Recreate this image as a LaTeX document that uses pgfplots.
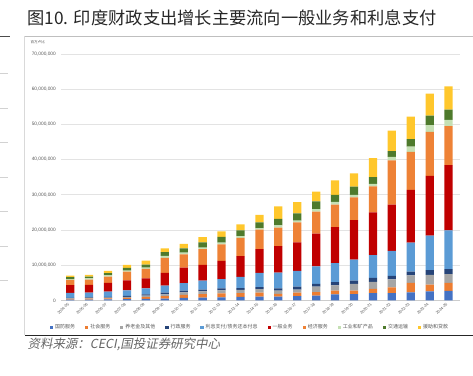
\documentclass[border=0pt]{standalone}
\usepackage{fontspec}
\setmainfont{Liberation Sans}
\newfontfamily\cjk{Noto Sans CJK SC}
\newfontfamily\cjksl[FakeSlant=0.2]{Noto Sans CJK SC}
\usepackage{pgfplots}
\pgfplotsset{compat=1.18}
\usepackage{pgfplotstable}
\definecolor{cdef}{HTML}{4472C4}
\definecolor{csoc}{HTML}{ED7D31}
\definecolor{cpen}{HTML}{A5A5A5}
\definecolor{cadm}{HTML}{264478}
\definecolor{cint}{HTML}{5B9BD5}
\definecolor{cgen}{HTML}{C00000}
\definecolor{ceco}{HTML}{EE8236}
\definecolor{cind}{HTML}{C5E0B4}
\definecolor{ctra}{HTML}{4E7A2C}
\definecolor{caid}{HTML}{FFC72C}
\definecolor{ctxt}{HTML}{595959}

\pgfplotstableread{
x def soc pen adm int gen eco ind tra aid
0 0.25 0.20 0.15 0.15 1.40 2.20 1.50 0.20 0.60 0.40
1 0.25 0.25 0.20 0.15 1.40 2.20 1.50 0.30 0.55 0.50
2 0.30 0.30 0.20 0.20 1.50 2.50 1.80 0.30 0.65 0.65
3 0.35 0.40 0.30 0.25 1.60 2.80 2.50 0.30 0.75 0.85
4 0.45 0.50 0.40 0.35 1.70 2.90 2.65 0.40 0.85 1.10
5 0.55 0.70 0.50 0.45 2.00 3.60 4.30 0.55 1.05 1.10
6 0.70 0.90 0.70 0.50 2.10 4.40 3.80 0.50 1.20 1.30
7 0.80 1.00 0.80 0.50 2.50 4.50 4.50 0.40 1.50 1.50
8 0.90 1.10 0.90 0.50 2.65 5.20 4.70 0.50 1.60 1.60
9 1.00 1.10 0.90 0.50 3.20 5.90 5.20 0.50 1.60 1.70
10 1.10 1.10 1.00 0.60 4.00 6.80 5.50 0.40 1.70 2.10
11 1.10 0.80 0.90 0.60 4.50 7.50 5.30 0.60 1.90 3.50
12 1.20 1.00 0.90 0.80 4.50 8.10 5.70 0.50 2.00 3.20
13 1.40 1.00 1.50 0.80 5.00 9.30 6.20 0.70 2.20 2.80
14 1.70 1.10 1.50 0.90 5.40 10.20 6.40 0.80 2.00 4.10
15 1.80 1.00 1.90 0.90 6.00 11.20 6.50 0.70 2.30 3.80
16 2.10 1.20 2.00 1.10 6.50 12.10 7.40 0.70 1.90 5.40
17 2.10 1.60 2.30 1.00 7.10 13.10 12.60 1.00 1.60 5.80
18 2.30 2.70 2.10 1.10 8.20 15.00 10.80 1.50 2.10 6.40
19 2.60 1.90 2.80 1.30 9.80 17.00 12.50 1.90 2.70 6.20
20 2.70 2.30 2.50 1.40 11.00 18.50 11.10 1.80 2.90 6.60
}\data

\begin{document}
\begin{tikzpicture}
\path (0pt,0pt) rectangle (473pt,376pt);
% decorations
\node[anchor=west, inner sep=0pt, font=\cjk\fontsize{17.3}{19}\selectfont, text=black!85] at (27pt,358pt) {图10. 印度财政支出增长主要流向一般业务和利息支付};
\draw[gray!50, line width=0.5pt] (25pt,340pt) -- (473pt,340pt);
\draw[black!70, line width=0.8pt] (0pt,340pt) -- (10pt,340pt);
\draw[gray!30, line width=0.6pt] (24pt,340pt) -- (24pt,40pt);
\foreach \yy in {303,268,233,198,164,129,95} \draw[gray!35, line width=0.6pt] (0pt,\yy pt) -- (8pt,\yy pt);
\draw[black!85, line width=0.9pt] (25pt,40pt) -- (473pt,40pt);
\node[anchor=west, inner sep=0pt, font=\cjksl\fontsize{12.5}{14}\selectfont, text=black!60] at (27pt,31pt) {资料来源：CECI,国投证券研究中心};
\node[anchor=west, inner sep=0pt, font=\cjk\fontsize{3.6}{4}\selectfont, text=ctxt] at (30pt,334pt) {百万卢比};

\begin{axis}[
  at={(61pt,75pt)}, anchor=south west,
  scale only axis, width=399pt, height=247pt,
  ybar stacked, bar width=8.3pt,
  xmin=-0.47, xmax=20.58, ymin=0, ymax=70,
  enlargelimits=false,
  axis x line*=bottom, axis y line*=left,
  y axis line style={draw=none},
  x axis line style={gray!40, line width=0.6pt},
  major tick length=0pt,
  ymajorgrids, grid style={gray!22, line width=0.7pt},
  ytick={0,10,...,70},
  yticklabels={0,{10,000,000},{20,000,000},{30,000,000},{40,000,000},{50,000,000},{60,000,000},{70,000,000}},
  yticklabel style={font=\fontsize{4.8}{5}\selectfont, text=ctxt, xshift=-2pt},
  xtick={0,...,20},
  xticklabels={2004-05,2005-06,2006-07,2007-08,2008-09,2009-10,2010-11,2011-12,2012-13,2013-14,2014-15,2015-16,2016-17,2017-18,2018-19,2019-20,2020-21,2021-22,2022-23,2023-24,2024-25},
  xticklabel style={font=\fontsize{4}{4.5}\selectfont, text=ctxt, rotate=45, anchor=east, yshift=-1pt},
  legend columns=10,
  legend style={at={(0.474,-0.109)}, anchor=center, draw=none, fill=none,
    font=\cjk\fontsize{5}{6}\selectfont, text=ctxt,
    /tikz/every even column/.append style={column sep=8pt}},
  legend image code/.code={\fill[#1] (0pt,-1.6pt) rectangle (3.2pt,1.6pt);},
]
\addplot[fill=cdef, draw=none] table[x=x,y=def]{\data};
\addplot[fill=csoc, draw=none] table[x=x,y=soc]{\data};
\addplot[fill=cpen, draw=none] table[x=x,y=pen]{\data};
\addplot[fill=cadm, draw=none] table[x=x,y=adm]{\data};
\addplot[fill=cint, draw=none] table[x=x,y=int]{\data};
\addplot[fill=cgen, draw=none] table[x=x,y=gen]{\data};
\addplot[fill=ceco, draw=none] table[x=x,y=eco]{\data};
\addplot[fill=cind, draw=none] table[x=x,y=ind]{\data};
\addplot[fill=ctra, draw=none] table[x=x,y=tra]{\data};
\addplot[fill=caid, draw=none] table[x=x,y=aid]{\data};
\legend{国防服务,社会服务,养老金及其他,行政服务,利息支付/债务还本付息,一般业务,经济服务,工业和矿产品,交通运输,援助和贷款}
\end{axis}
\end{tikzpicture}
\end{document}
